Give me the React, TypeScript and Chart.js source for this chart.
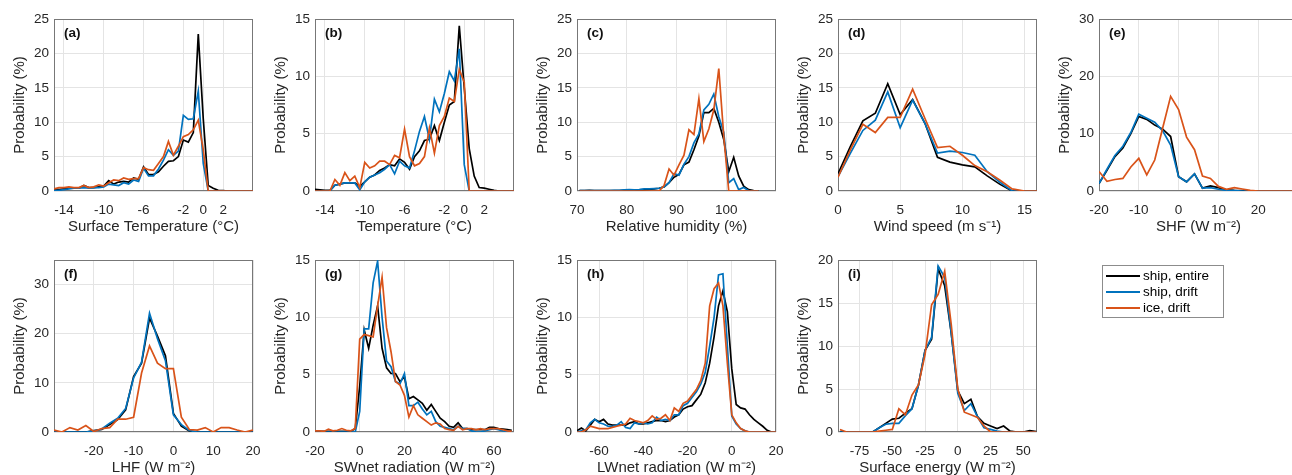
import React, { useEffect, useRef } from "react";
import { Chart, registerables } from "chart.js";

Chart.register(...registerables);

const FONT = "'Liberation Sans', Arial, Helvetica, sans-serif";
const TEXT = "#262626";
const GRID = "#e4e4e4";
const FRAME = "#777777";
const BLACK = "#000000";
const BLUE = "#0072BD";
const ORANGE = "#D95319";

// ---------- data ----------
const tempBins = [-15, -14.5, -14, -13.5, -13, -12.5, -12, -11.5, -11, -10.5, -10, -9.5, -9, -8.5, -8, -7.5, -7, -6.5, -6, -5.5, -5, -4.5, -4, -3.5, -3, -2.5, -2, -1.5, -1, -0.5, 0, 0.5, 1, 1.5, 2, 2.5, 3, 3.5, 4, 4.5, 5];
const surfTempShipEntire = [0.3, 0.2, 0.3, 0.4, 0.4, 0.4, 0.8, 0.5, 0.5, 0.6, 0.7, 1.5, 1.0, 1.3, 1.4, 1.3, 1.9, 1.7, 3.5, 2.4, 2.4, 2.8, 3.6, 4.3, 4.4, 5.0, 7.4, 7.1, 8.5, 22.8, 10.5, 0.8, 0.4, 0.1, 0.05, 0, 0, 0, 0, 0, 0];
const surfTempShipDrift = [0.1, 0.1, 0.2, 0.3, 0.4, 0.4, 0.5, 0.4, 0.5, 0.5, 0.6, 1.0, 0.9, 0.8, 1.2, 1.0, 1.6, 1.4, 3.3, 2.2, 2.2, 3.2, 4.5, 6.0, 5.2, 5.8, 11.0, 10.4, 10.5, 14.5, 4.0, 0, 0, 0, 0, 0, 0, 0, 0, 0, 0];
const surfTempIceDrift = [0.3, 0.5, 0.5, 0.6, 0.5, 0.5, 0.8, 0.5, 0.6, 0.9, 0.7, 1.2, 1.6, 1.5, 1.9, 1.7, 1.8, 1.8, 3.4, 3.1, 3.0, 4.0, 5.0, 7.2, 5.2, 6.5, 7.9, 8.2, 8.9, 10.3, 6.0, 0, 0, 0, 0, 0, 0, 0, 0, 0, 0];

const airTempShipEntire = [0.15, 0.1, 0.05, 0.05, 0.5, 0.6, 0.7, 0.7, 0.7, 0.4, 0.8, 1.2, 1.4, 1.8, 2.0, 2.3, 2.2, 2.8, 2.5, 1.9, 3.0, 3.5, 4.4, 4.5, 5.7, 4.4, 6.0, 7.5, 7.8, 14.4, 9.0, 3.7, 1.3, 0.3, 0.25, 0.15, 0.05, 0, 0, 0, 0];
const airTempShipDrift = [0, 0, 0, 0, 0.5, 0.6, 0.7, 0.7, 0.7, 0.1, 0.8, 1.2, 1.4, 1.6, 1.9, 2.3, 1.5, 2.6, 2.2, 2.0, 3.5, 5.2, 6.5, 4.5, 8.0, 6.9, 8.5, 10.4, 9.6, 12.4, 2.3, 0, 0, 0, 0, 0, 0, 0, 0, 0, 0];
const airTempIceDrift = [0, 0, 0, 0, 1.0, 0.5, 1.6, 0.9, 1.3, 0.3, 2.5, 2.0, 2.2, 2.6, 2.6, 2.3, 3.1, 2.9, 5.4, 3.0, 2.2, 2.4, 3.0, 5.5, 3.3, 5.7, 6.5, 8.1, 7.8, 10.6, 9.5, 0, 0, 0, 0, 0, 0, 0, 0, 0, 0];

const rhBins = [70.5, 71.5, 72.5, 73.5, 74.5, 75.5, 76.5, 77.5, 78.5, 79.5, 80.5, 81.5, 82.5, 83.5, 84.5, 85.5, 86.5, 87.5, 88.5, 89.5, 90.5, 91.5, 92.5, 93.5, 94.5, 95.5, 96.5, 97.5, 98.5, 99.5, 100.5, 101.5, 102.5, 103.5, 104.5, 105.5, 106.5];
const rhShipEntire = [0.05, 0.05, 0.1, 0.05, 0.05, 0.05, 0.05, 0.05, 0.05, 0.1, 0.1, 0.1, 0.15, 0.2, 0.25, 0.3, 0.4, 0.6, 1.2, 2.0, 2.4, 3.8, 4.2, 6.0, 8.0, 11.4, 11.4, 12.0, 10.0, 7.5, 2.8, 4.9, 2.2, 0.7, 0.2, 0.05, 0];
const rhShipDrift = [0.05, 0.05, 0.05, 0.05, 0.05, 0.05, 0.05, 0.1, 0.1, 0.15, 0.2, 0.15, 0.2, 0.3, 0.3, 0.35, 0.4, 0.6, 1.2, 2.5, 2.3, 3.9, 5.0, 7.0, 8.3, 11.8, 12.6, 14.1, 10.8, 8.5, 1.2, 1.8, 0.2, 0.5, 0.05, 0, 0];
const rhIceDrift = [0, 0, 0, 0, 0, 0, 0, 0, 0, 0, 0, 0, 0, 0, 0, 0, 0, 0.8, 3.2, 2.3, 3.8, 5.2, 8.9, 8.2, 13.4, 7.2, 9.0, 11.8, 17.8, 8.0, 0, 0, 0, 0, 0, 0, 0];

const windBins = [0, 1, 2, 3, 4, 5, 6, 7, 8, 9, 10, 11, 12, 13, 14, 15, 16];
const windShipEntire = [2.5, 6.5, 10.2, 11.3, 15.6, 11.1, 13.3, 9.8, 4.9, 4.2, 3.8, 3.5, 2.2, 1.0, 0, 0, 0];
const windShipDrift = [2.1, 5.5, 8.8, 10.3, 14.4, 9.2, 13.2, 9.8, 5.5, 5.8, 5.6, 5.2, 2.8, 1.3, 0, 0, 0];
const windIceDrift = [2.0, 6.0, 9.7, 8.5, 10.7, 10.7, 14.8, 10.5, 6.3, 6.5, 5.2, 3.7, 2.8, 1.6, 0.3, 0, 0];

const shfBins = [-20, -18, -16, -14, -12, -10, -8, -6, -4, -2, 0, 2, 4, 6, 8, 10, 12, 14, 16, 18, 20, 22, 24, 26, 28, 30];
const shfShipEntire = [1.3, 3.6, 6.0, 7.5, 10.0, 13.0, 12.5, 11.5, 10.8, 9.5, 2.5, 1.6, 3.0, 0.5, 0.9, 0.6, 0.2, 0.1, 0.05, 0, 0, 0, 0, 0, 0, 0];
const shfShipDrift = [1.3, 3.8, 6.2, 7.8, 10.2, 13.4, 12.7, 12.0, 10.5, 8.0, 2.5, 1.6, 3.0, 0.5, 0.6, 0.3, 0.1, 0.05, 0, 0, 0, 0, 0, 0, 0, 0];
const shfIceDrift = [3.4, 1.7, 2.0, 2.2, 4.2, 5.7, 2.8, 5.4, 11.0, 16.5, 14.2, 9.4, 7.2, 2.6, 2.2, 0.8, 0.3, 0.6, 0.35, 0.1, 0, 0, 0, 0, 0, 0];

const lhfBins = [-30, -28, -26, -24, -22, -20, -18, -16, -14, -12, -10, -8, -6, -4, -2, 0, 2, 4, 6, 8, 10, 12, 14, 16, 18, 20];
const lhfShipEntire = [0, 0, 0, 0, 0, 0.3, 0.5, 1.5, 2.5, 4.5, 11.3, 14.0, 23.2, 19.5, 15.5, 3.8, 1.2, 0.2, 0, 0, 0, 0, 0, 0, 0, 0];
const lhfShipDrift = [0, 0, 0, 0, 0, 0.2, 0.6, 1.8, 2.8, 4.8, 11.0, 14.2, 24.2, 19.0, 14.5, 3.5, 1.5, 0.3, 0, 0, 0, 0, 0, 0, 0, 0];
const lhfIceDrift = [0.4, 0.0, 0.9, 0.4, 1.3, 0.1, 0.7, 0.9, 2.6, 2.6, 3.0, 12.0, 17.5, 14.0, 12.9, 12.9, 3.0, 0.5, 0.4, 0.9, 0.0, 0.9, 0.9, 0.4, 0.0, 0.4];

const swBins = [-20, -18, -16, -14, -12, -10, -8, -6, -4, -2, 0, 2, 4, 6, 8, 10, 12, 14, 16, 18, 20, 22, 24, 26, 28, 30, 32, 34, 36, 38, 40, 42, 44, 46, 48, 50, 52, 54, 56, 58, 60, 62, 64, 66, 68];
const swShipEntire = [0.05, 0.05, 0.05, 0.05, 0.05, 0.05, 0.05, 0.05, 0.05, 0.3, 4.0, 8.9, 7.3, 9.3, 11.0, 7.3, 5.6, 5.1, 5.1, 4.4, 4.8, 2.9, 3.1, 2.8, 2.5, 1.9, 2.4, 1.8, 1.2, 0.9, 0.5, 0.4, 0.8, 0.3, 0.3, 0.2, 0.2, 0.2, 0.2, 0.4, 0.4, 0.3, 0.25, 0.2, 0.15];
const swShipDrift = [0, 0, 0, 0, 0, 0, 0, 0, 0, 0, 1.8, 9.0, 9.0, 13.0, 14.9, 10.0, 6.2, 5.7, 4.4, 4.2, 5.1, 2.3, 2.3, 2.6, 2.0, 1.5, 1.8, 0.9, 0.5, 0.4, 0.3, 0.2, 0.5, 0.3, 0.3, 0.1, 0, 0, 0.1, 0.2, 0.3, 0.2, 0.1, 0.05, 0];
const swIceDrift = [0.1, 0.1, 0.05, 0.25, 0.1, 0.15, 0.3, 0.15, 0.1, 0.3, 8.1, 8.5, 8.4, 8.3, 11.0, 13.5, 9.1, 7.0, 4.4, 4.1, 3.2, 1.3, 2.3, 1.5, 1.2, 0.9, 0.6, 0.8, 0.7, 0.3, 0.2, 0.15, 0.5, 0.2, 0.3, 0.3, 0.2, 0.3, 0.2, 0.3, 0.3, 0.3, 0.2, 0.1, 0.05];

const lwBins = [-70, -68, -66, -64, -62, -60, -58, -56, -54, -52, -50, -48, -46, -44, -42, -40, -38, -36, -34, -32, -30, -28, -26, -24, -22, -20, -18, -16, -14, -12, -10, -8, -6, -4, -2, 0, 2, 4, 6, 8, 10, 12, 14, 16, 18, 20];
const lwShipEntire = [0.1, 0.35, 0.1, 0.6, 1.1, 0.9, 1.1, 0.7, 0.6, 0.6, 0.6, 0.6, 0.8, 0.9, 0.7, 0.7, 0.8, 0.9, 1.0, 1.0, 0.9, 1.0, 1.3, 1.5, 2.0, 2.2, 2.3, 2.8, 3.3, 4.3, 6.0, 8.3, 11.0, 12.3, 10.5, 5.5, 2.4, 2.1, 2.0, 1.5, 1.1, 0.8, 0.5, 0.15, 0, 0];
const lwShipDrift = [0, 0.1, 0.2, 0.8, 1.1, 0.8, 0.7, 0.5, 0.5, 0.6, 0.9, 0.4, 0.3, 0.8, 0.7, 0.8, 0.7, 0.8, 1.3, 1.0, 1.1, 1.0, 1.5, 1.5, 2.3, 2.5, 3.0, 3.5, 4.2, 5.2, 7.5, 10.0, 13.7, 13.8, 7.5, 1.4, 0.7, 0.3, 0.1, 0, 0, 0, 0, 0, 0, 0];
const lwIceDrift = [0, 0, 0.2, 0.5, 0.4, 0.3, 0.3, 0.3, 0.4, 0.5, 0.6, 0.7, 1.2, 1.0, 0.9, 0.8, 1.0, 1.4, 1.1, 1.2, 1.5, 1.0, 2.1, 1.8, 2.5, 2.7, 3.2, 3.7, 4.5, 6.0, 11.0, 12.5, 13.0, 11.0, 6.0, 1.5, 0.8, 0.3, 0.1, 0, 0, 0, 0, 0, 0, 0];

const seBins = [-90, -85, -80, -75, -70, -65, -60, -55, -50, -45, -40, -35, -30, -25, -20, -15, -10, -5, 0, 5, 10, 15, 20, 25, 30, 35, 40, 45, 50, 55, 60];
const seShipEntire = [0.05, 0, 0, 0, 0, 0, 0.5, 1.0, 1.5, 1.6, 2.2, 2.7, 5.5, 9.5, 10.8, 19.0, 17.0, 11.5, 4.8, 3.3, 3.8, 1.8, 1.0, 0.7, 0.4, 0.7, 0.1, 0, 0, 0.15, 0.05];
const seShipDrift = [0, 0, 0, 0, 0, 0, 0.5, 0.9, 1.0, 1.0, 1.9, 2.7, 5.5, 9.5, 11.0, 19.3, 18.0, 11.5, 4.5, 2.5, 3.3, 1.8, 0.5, 0.3, 0.1, 0, 0, 0, 0, 0, 0];
const seIceDrift = [0.3, 0, 0, 0, 0, 0, 0.1, 0.2, 0.3, 2.7, 2.0, 4.3, 5.5, 9.0, 14.8, 16.0, 18.7, 12.5, 5.0, 2.3, 2.0, 1.7, 0.7, 0, 0, 0, 0, 0, 0, 0, 0];

// tick labels
const tempXTicks = [-14, -10, -6, -2, 0, 2];
const rhXTicks = [70, 80, 90, 100];
const windXTicks = [0, 5, 10, 15];
const shfXTicks = [-20, -10, 0, 10, 20];
const lhfXTicks = [-20, -10, 0, 10, 20];
const swXTicks = [-20, 0, 20, 40, 60];
const lwXTicks = [-60, -40, -20, 0, 20];
const seXTicks = [-75, -50, -25, 0, 25, 50];
const yTicks25 = [0, 5, 10, 15, 20, 25];
const yTicks15 = [0, 5, 10, 15];
const yTicks30 = [0, 10, 20, 30];
const yTicks20 = [0, 5, 10, 15, 20];

const seriesNames = ["ship, entire", "ship, drift", "ice, drift"];

// ---------- layout ----------
const AXW = 50; // y-axis box width
const AXH = 50; // x-axis box height
const PADT = 10;
const PADR = 10;
const PW = 199;
const PH = 172;
const COLS = [54, 315, 577, 838, 1099];
const ROWS = [19, 260];

type PanelSpec = {
  label: string;
  xTitle: string;
  xMin: number;
  xMax: number;
  xTicks: number[];
  yMax: number;
  yTicks: number[];
  x: number[];
  series: number[][];
  col: number;
  row: number;
};

const panels: PanelSpec[] = [
  { label: "(a)", xTitle: "Surface Temperature (°C)", xMin: -15, xMax: 5, xTicks: tempXTicks, yMax: 25, yTicks: yTicks25, x: tempBins, series: [surfTempShipEntire, surfTempShipDrift, surfTempIceDrift], col: 0, row: 0 },
  { label: "(b)", xTitle: "Temperature (°C)", xMin: -15, xMax: 5, xTicks: tempXTicks, yMax: 15, yTicks: yTicks15, x: tempBins, series: [airTempShipEntire, airTempShipDrift, airTempIceDrift], col: 1, row: 0 },
  { label: "(c)", xTitle: "Relative humidity (%)", xMin: 70, xMax: 110, xTicks: rhXTicks, yMax: 25, yTicks: yTicks25, x: rhBins, series: [rhShipEntire, rhShipDrift, rhIceDrift], col: 2, row: 0 },
  { label: "(d)", xTitle: "Wind speed (m s⁻¹)", xMin: 0, xMax: 16, xTicks: windXTicks, yMax: 25, yTicks: yTicks25, x: windBins, series: [windShipEntire, windShipDrift, windIceDrift], col: 3, row: 0 },
  { label: "(e)", xTitle: "SHF (W m⁻²)", xMin: -20, xMax: 30, xTicks: shfXTicks, yMax: 30, yTicks: yTicks30, x: shfBins, series: [shfShipEntire, shfShipDrift, shfIceDrift], col: 4, row: 0 },
  { label: "(f)", xTitle: "LHF (W m⁻²)", xMin: -30, xMax: 20, xTicks: lhfXTicks, yMax: 35, yTicks: yTicks30, x: lhfBins, series: [lhfShipEntire, lhfShipDrift, lhfIceDrift], col: 0, row: 1 },
  { label: "(g)", xTitle: "SWnet radiation (W m⁻²)", xMin: -20, xMax: 69, xTicks: swXTicks, yMax: 15, yTicks: yTicks15, x: swBins, series: [swShipEntire, swShipDrift, swIceDrift], col: 1, row: 1 },
  { label: "(h)", xTitle: "LWnet radiation (W m⁻²)", xMin: -70, xMax: 20, xTicks: lwXTicks, yMax: 15, yTicks: yTicks15, x: lwBins, series: [lwShipEntire, lwShipDrift, lwIceDrift], col: 2, row: 1 },
  { label: "(i)", xTitle: "Surface energy (W m⁻²)", xMin: -91.5, xMax: 60.5, xTicks: seXTicks, yMax: 20, yTicks: yTicks20, x: seBins, series: [seShipEntire, seShipDrift, seIceDrift], col: 3, row: 1 },
];

const COLORS = [BLACK, BLUE, ORANGE];

const framePlugin = {
  id: "frameBox",
  beforeDatasetsDraw(chart: any) {
    const { ctx, chartArea } = chart;
    const { left, top, right, bottom } = chartArea;
    ctx.save();
    ctx.strokeStyle = FRAME;
    ctx.lineWidth = 1;
    ctx.strokeRect(Math.round(left) + 0.5, Math.round(top) + 0.5, Math.round(right - left) - 1, Math.round(bottom - top) - 1);
    ctx.restore();
  },
};

function Panel({ spec }: { spec: PanelSpec }) {
  const ref = useRef<HTMLCanvasElement | null>(null);
  const left = COLS[spec.col];
  const top = ROWS[spec.row];
  const cw = AXW + PW + PADR;
  const ch = PADT + PH + AXH;

  useEffect(() => {
    if (!ref.current) return;
    const datasets = spec.series.map((ys, si) => ({
      label: seriesNames[si],
      data: spec.x.map((xv, i) => ({ x: xv, y: ys[i] })),
      borderColor: COLORS[si],
      backgroundColor: COLORS[si],
      borderWidth: 1.7,
      pointRadius: 0,
      tension: 0,
      fill: false,
      order: 3 - si,
    }));
    const chart = new Chart(ref.current, {
      type: "line",
      data: { datasets },
      options: {
        animation: false,
        responsive: false,
        devicePixelRatio: 1,
        events: [],
        layout: { padding: { top: PADT, right: PADR, left: 0, bottom: 0 } },
        plugins: { legend: { display: false }, tooltip: { enabled: false } },
        scales: {
          x: {
            type: "linear",
            min: spec.xMin,
            max: spec.xMax,
            afterBuildTicks: (s: any) => {
              s.ticks = spec.xTicks.map((v) => ({ value: v }));
            },
            afterFit: (s: any) => {
              s.height = AXH;
              s.paddingLeft = 0;
              s.paddingRight = 0;
            },
            grid: { color: GRID, lineWidth: 1, drawTicks: false },
            border: { display: false },
            ticks: {
              autoSkip: false,
              maxRotation: 0,
              padding: 11.5,
              color: TEXT,
              font: { family: FONT, size: 13.5 },
              callback: (v: any) => String(v),
            },
            title: {
              display: true,
              text: spec.xTitle,
              color: TEXT,
              font: { family: FONT, size: 15, lineHeight: 1 },
              padding: { top: 0, bottom: 6.5 },
            },
          },
          y: {
            type: "linear",
            min: 0,
            max: spec.yMax,
            afterBuildTicks: (s: any) => {
              s.ticks = spec.yTicks.map((v) => ({ value: v }));
            },
            afterFit: (s: any) => {
              s.width = AXW;
              s.paddingTop = 0;
              s.paddingBottom = 0;
            },
            grid: { color: GRID, lineWidth: 1, drawTicks: false },
            border: { display: false },
            ticks: {
              autoSkip: false,
              padding: 5,
              color: TEXT,
              font: { family: FONT, size: 13.5 },
              callback: (v: any) => String(v),
            },
            title: {
              display: true,
              text: "Probability (%)",
              color: TEXT,
              font: { family: FONT, size: 15, lineHeight: 1 },
              padding: { top: 8, bottom: 0 },
            },
          },
        },
      },
      plugins: [framePlugin],
    } as any);
    return () => chart.destroy();
  }, [spec]);

  return (
    <>
      <canvas
        ref={ref}
        width={cw}
        height={ch}
        style={{ position: "absolute", left: left - AXW, top: top - PADT, width: cw, height: ch }}
      />
      <div
        style={{
          position: "absolute",
          left: left + 10,
          top: top + 6,
          fontFamily: FONT,
          fontWeight: "bold",
          fontSize: 13.5,
          lineHeight: "16px",
          color: "#111",
          whiteSpace: "nowrap",
        }}
      >
        {spec.label}
      </div>
    </>
  );
}

function Legend() {
  const rows = seriesNames.map((name, i) => (
    <div key={name} style={{ position: "absolute", left: 0, top: 2 + i * 15.8, height: 16, width: 120 }}>
      <div style={{ position: "absolute", left: 3, top: 7, width: 34, height: 2, background: COLORS[i] }} />
      <div
        style={{
          position: "absolute",
          left: 40,
          top: 0,
          fontFamily: FONT,
          fontSize: 13.5,
          lineHeight: "16px",
          color: "#000",
          whiteSpace: "nowrap",
        }}
      >
        {name}
      </div>
    </div>
  ));
  return (
    <div
      style={{
        position: "absolute",
        left: 1102,
        top: 265,
        width: 120,
        height: 51,
        border: "1px solid #8c8c8c",
        background: "#fff",
      }}
    >
      {rows}
    </div>
  );
}

export default function App() {
  return (
    <div
      style={{
        position: "absolute",
        left: 0,
        top: 0,
        width: 1292,
        height: 475,
        overflow: "hidden",
        background: "#ffffff",
      }}
    >
      {panels.map((p) => (
        <Panel key={p.label} spec={p} />
      ))}
      <Legend />
    </div>
  );
}
